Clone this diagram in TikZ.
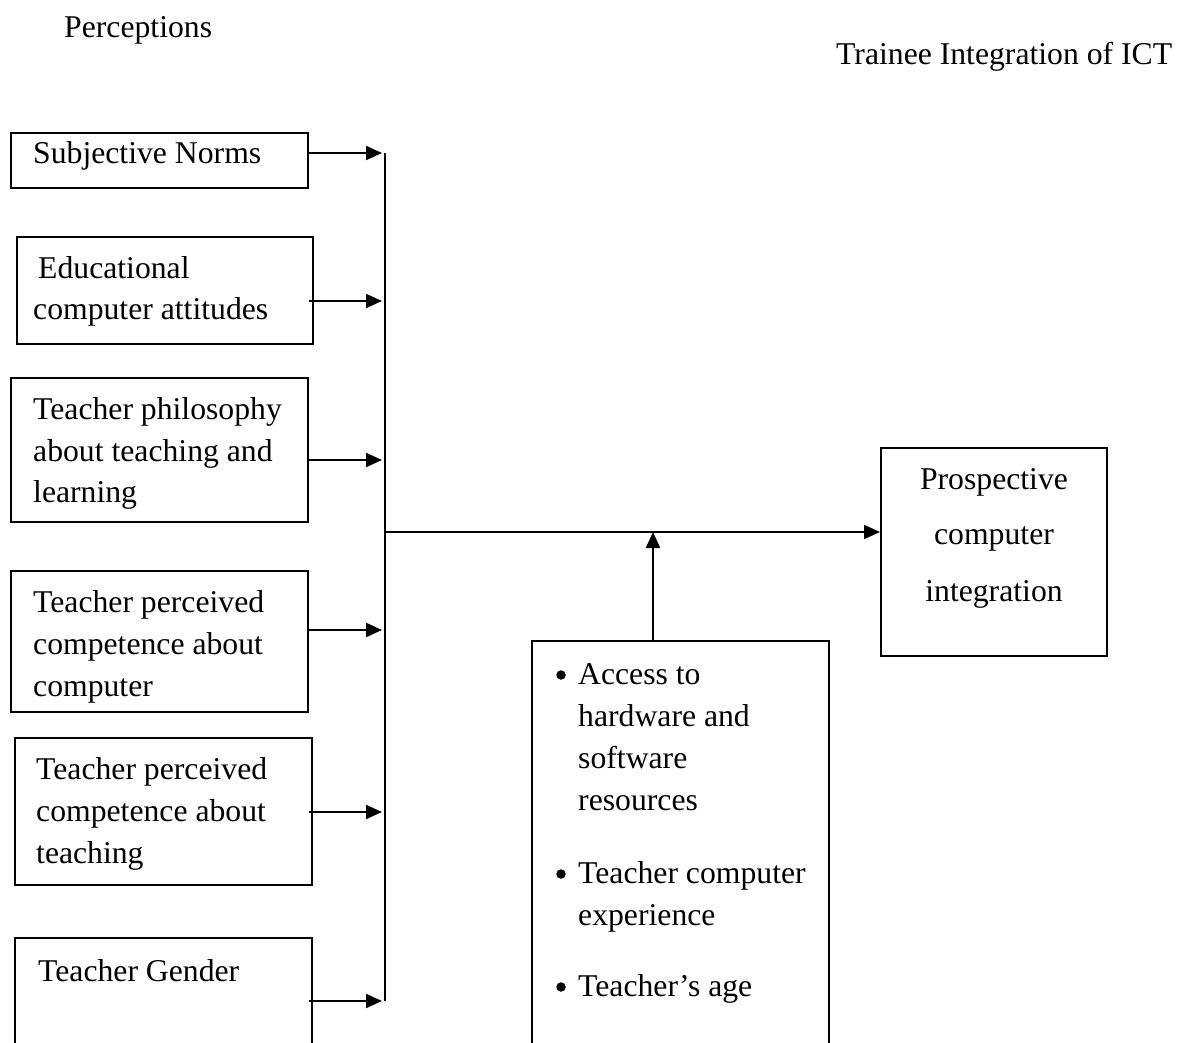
\documentclass[tikz,border=0pt]{standalone}
\usepackage{fontspec}
\setmainfont{Liberation Serif}
\usetikzlibrary{arrows.meta}
\tikzset{
  box/.style={draw, line width=2pt, rectangle, inner sep=0pt},
  txt/.style={anchor=base west, align=left, inner sep=0pt, font=\fontsize{31.7}{42}\selectfont},
  dot/.style={circle, fill=black, inner sep=0pt, minimum size=9.5pt},
  arr/.style={line width=2pt, -{Triangle[length=16pt,width=14pt]}},
  bus/.style={line width=2pt}
}
\begin{document}
\begin{tikzpicture}[x=1pt,y=-1pt]
\useasboundingbox (0,0) rectangle (1191,1043);
\clip (0,0) rectangle (1191,1043);
% titles
\node[txt] (t1) at (64,38) {Perceptions};
\node[txt] (t2) at (836,65) {Trainee Integration of ICT};
% boxes
\node[box, minimum width=297pt, minimum height=55pt] (b1) at (159.5,160.5) {};
\node[box, minimum width=296pt, minimum height=107pt] (b2) at (165,290.5) {};
\node[box, minimum width=297pt, minimum height=144pt] (b3) at (159.5,450) {};
\node[box, minimum width=297pt, minimum height=141pt] (b4) at (159.5,641.5) {};
\node[box, minimum width=297pt, minimum height=147pt] (b5) at (163.5,811.5) {};
\node[box, minimum width=297pt, minimum height=132pt] (b6) at (163.5,1004) {};
\node[box, minimum width=297pt, minimum height=429pt] (bb) at (680.5,855.5) {};
\node[box, minimum width=226pt, minimum height=208pt] (pc) at (994,552) {};
% box texts
\node[txt] (l1) at (33,164) {Subjective Norms};
\node[txt] (l2a) at (38,278) {Educational};
\node[txt] (l2b) at (33,319) {computer attitudes};
\node[txt] (l3a) at (33,419) {Teacher philosophy};
\node[txt] (l3b) at (33,461) {about teaching and};
\node[txt] (l3c) at (33,502) {learning};
\node[txt] (l4a) at (33,612) {Teacher perceived};
\node[txt] (l4b) at (33,654) {competence about};
\node[txt] (l4c) at (33,696) {computer};
\node[txt] (l5a) at (36,779) {Teacher perceived};
\node[txt] (l5b) at (36,821) {competence about};
\node[txt] (l5c) at (36,863) {teaching};
\node[txt] (l6) at (38,981) {Teacher Gender};
% bullet texts
\node[dot] (k1) at (561,675) {};
\node[txt] (k1a) at (578,684) {Access to};
\node[txt] (k1b) at (578,726) {hardware and};
\node[txt] (k1c) at (578,768) {software};
\node[txt] (k1d) at (578,810) {resources};
\node[dot] (k2) at (561,874) {};
\node[txt] (k2a) at (578,883) {Teacher computer};
\node[txt] (k2b) at (578,925) {experience};
\node[dot] (k3) at (561,987) {};
\node[txt] (k3a) at (578,996) {Teacher’s age};
% prospective
\node[txt, anchor=base] (p1) at (994,489) {Prospective};
\node[txt, anchor=base] (p2) at (994,544) {computer};
\node[txt, anchor=base] (p3) at (994,601) {integration};
% bus
\coordinate (q1) at (385,153);
\coordinate (q2) at (385,301);
\coordinate (q3) at (385,460);
\coordinate (q4) at (385,630);
\coordinate (q5) at (385,812);
\coordinate (q6) at (385,1001);
\coordinate (j) at (385,532);
\coordinate (m) at (653,532);
\draw[bus] (q1) -- (q6);
\draw[arr, shorten >=3pt] (b1.east |- q1) -- (q1);
\draw[arr, shorten >=3pt] ([xshift=-5pt]b2.east |- q2) -- (q2);
\draw[arr, shorten >=3pt] (b3.east |- q3) -- (q3);
\draw[arr, shorten >=3pt] (b4.east |- q4) -- (q4);
\draw[arr, shorten >=3pt] ([xshift=-4pt]b5.east |- q5) -- (q5);
\draw[arr, shorten >=3pt] ([xshift=-4pt]b6.east |- q6) -- (q6);
\draw[arr] (j) -- (pc.west |- j);
\draw[arr] (bb.north -| m) -- (m);
\end{tikzpicture}
\end{document}
